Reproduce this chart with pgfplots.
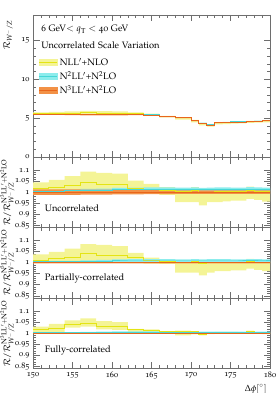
\documentclass[border=0pt]{standalone}
\usepackage[T1]{fontenc}
\usepackage[osf]{mathpazo}
\usepackage{pgfplots}
\pgfplotsset{compat=1.18}
\usepackage{pgfplotstable}
\usepgfplotslibrary{fillbetween}

\definecolor{ylwband}{RGB}{244,244,150}
\definecolor{ylwline}{RGB}{228,228,20}
\definecolor{cyaband}{RGB}{140,236,236}
\definecolor{cyaline}{RGB}{70,215,215}
\definecolor{orgband}{RGB}{242,145,70}
\definecolor{orgline}{RGB}{232,102,28}
\definecolor{axgray}{RGB}{110,110,110}

\pgfplotstableread{
x yh yc yl ch cc cl oh oc ol
150 5.75 5.58 5.45 5.56 5.53 5.49 5.57 5.50 5.43
152 5.80 5.62 5.46 5.55 5.52 5.48 5.56 5.49 5.42
154 5.87 5.63 5.46 5.54 5.50 5.47 5.54 5.47 5.40
156 5.96 5.68 5.45 5.53 5.49 5.46 5.52 5.45 5.38
158 5.92 5.62 5.44 5.53 5.49 5.45 5.51 5.44 5.37
160 5.89 5.61 5.42 5.54 5.49 5.45 5.50 5.43 5.36
162 5.74 5.55 5.42 5.56 5.52 5.47 5.50 5.45 5.40
164 5.58 5.44 5.34 5.50 5.44 5.40 5.42 5.38 5.34
166 5.29 5.20 5.11 5.28 5.23 5.19 5.21 5.17 5.13
168 5.13 5.06 4.81 5.15 5.10 5.06 5.08 5.04 5.00
170 4.77 4.69 4.45 4.76 4.72 4.68 4.70 4.66 4.63
171 4.36 4.32 4.07 4.43 4.38 4.35 4.36 4.33 4.30
172 4.15 4.12 3.93 4.21 4.17 4.14 4.15 4.12 4.09
173 4.47 4.41 4.20 4.50 4.45 4.42 4.44 4.40 4.37
174 4.51 4.45 4.25 4.53 4.48 4.45 4.47 4.43 4.40
175 4.54 4.48 4.30 4.57 4.52 4.49 4.51 4.47 4.44
176 4.57 4.51 4.33 4.60 4.55 4.52 4.54 4.50 4.47
177 4.65 4.57 4.39 4.63 4.58 4.55 4.57 4.53 4.50
178 4.65 4.60 4.42 4.68 4.63 4.60 4.62 4.58 4.55
179 4.69 4.65 4.45 4.74 4.70 4.66 4.68 4.64 4.61
180 4.69 4.65 4.45 4.74 4.70 4.66 4.68 4.64 4.61
}\tmain

\pgfplotstableread{
x yh yc yl ch cc cl oh oc ol
150 1.045 1.015 0.990 1.010 1.005 0.998 1.013 1.000 0.988
152 1.056 1.023 0.995 1.011 1.005 0.999 1.013 1.000 0.988
154 1.073 1.030 0.998 1.012 1.006 1.000 1.013 1.000 0.988
156 1.094 1.043 1.000 1.015 1.008 1.001 1.012 1.000 0.989
158 1.088 1.034 1.000 1.017 1.009 1.002 1.012 1.000 0.989
160 1.084 1.034 0.998 1.020 1.011 1.003 1.011 1.000 0.990
162 1.053 1.018 0.995 1.021 1.012 1.004 1.010 1.000 0.990
164 1.038 1.012 0.993 1.022 1.012 1.004 1.010 1.000 0.991
166 1.023 1.006 0.988 1.022 1.012 1.004 1.009 1.000 0.992
168 1.018 1.004 0.955 1.021 1.011 1.004 1.008 1.000 0.993
170 1.023 1.006 0.955 1.022 1.012 1.004 1.008 1.000 0.993
171 1.008 0.998 0.940 1.020 1.011 1.003 1.008 1.000 0.993
172 1.008 1.000 0.955 1.021 1.012 1.004 1.008 1.000 0.993
173 1.015 1.003 0.955 1.022 1.012 1.004 1.008 1.000 0.993
174 1.018 1.004 0.959 1.022 1.012 1.004 1.008 1.000 0.993
175 1.015 1.003 0.962 1.021 1.011 1.004 1.008 1.000 0.993
176 1.015 1.003 0.962 1.021 1.011 1.004 1.008 1.000 0.993
177 1.026 1.008 0.970 1.023 1.013 1.005 1.008 1.000 0.993
178 1.015 1.004 0.965 1.022 1.012 1.004 1.008 1.000 0.993
179 1.011 1.002 0.958 1.021 1.011 1.004 1.008 1.000 0.993
180 1.011 1.002 0.958 1.021 1.011 1.004 1.008 1.000 0.993
}\tunc

\pgfplotstableread{
x yh yc yl ch cc cl oh oc ol
150 1.038 1.011 0.998 1.008 1.004 1.000 1.003 1.000 0.997
152 1.049 1.018 1.000 1.008 1.004 1.000 1.003 1.000 0.997
154 1.064 1.026 1.000 1.009 1.004 1.000 1.003 1.000 0.997
156 1.084 1.043 1.002 1.011 1.005 1.000 1.003 1.000 0.997
158 1.081 1.034 1.002 1.013 1.006 1.001 1.003 1.000 0.997
160 1.076 1.034 1.000 1.015 1.008 1.001 1.003 1.000 0.997
162 1.045 1.023 0.998 1.016 1.008 1.001 1.003 1.000 0.997
164 1.023 1.010 0.996 1.016 1.008 1.001 1.003 1.000 0.997
166 1.015 1.005 0.995 1.016 1.008 1.001 1.003 1.000 0.997
168 1.008 1.002 0.955 1.015 1.008 1.001 1.003 1.000 0.997
170 1.015 1.005 0.955 1.016 1.008 1.001 1.003 1.000 0.997
171 1.002 0.998 0.943 1.015 1.008 1.001 1.003 1.000 0.997
172 1.005 1.000 0.955 1.016 1.008 1.001 1.003 1.000 0.997
173 1.010 1.002 0.962 1.016 1.008 1.001 1.003 1.000 0.997
174 1.012 1.003 0.962 1.016 1.008 1.001 1.003 1.000 0.997
175 1.010 1.002 0.965 1.015 1.008 1.001 1.003 1.000 0.997
176 1.010 1.002 0.965 1.015 1.008 1.001 1.003 1.000 0.997
177 1.018 1.006 0.973 1.017 1.009 1.001 1.003 1.000 0.997
178 1.012 1.003 0.968 1.016 1.008 1.001 1.003 1.000 0.997
179 1.008 1.001 0.962 1.015 1.008 1.001 1.003 1.000 0.997
180 1.008 1.001 0.962 1.015 1.008 1.001 1.003 1.000 0.997
}\tpar

\pgfplotstableread{
x yh yc yl ch cc cl oh oc ol
150 1.030 1.015 1.000 1.004 1.002 0.999 1.003 1.000 0.997
152 1.043 1.023 1.005 1.005 1.002 0.999 1.003 1.000 0.997
154 1.058 1.038 1.025 1.005 1.003 1.000 1.003 1.000 0.997
156 1.068 1.043 1.030 1.006 1.003 1.000 1.003 1.000 0.997
158 1.055 1.032 1.018 1.007 1.004 1.000 1.003 1.000 0.997
160 1.050 1.030 1.015 1.008 1.004 1.001 1.003 1.000 0.997
162 1.020 1.016 1.005 1.009 1.005 1.001 1.003 1.000 0.997
164 1.018 1.013 1.002 1.009 1.005 1.001 1.003 1.000 0.997
166 1.010 1.006 0.998 1.008 1.004 1.001 1.003 1.000 0.997
168 1.012 1.008 0.990 1.008 1.004 1.001 1.003 1.000 0.997
170 1.010 1.006 0.995 1.007 1.004 1.001 1.003 1.000 0.997
171 0.998 0.994 0.990 1.007 1.004 1.001 1.003 1.000 0.997
172 1.005 1.002 0.996 1.007 1.004 1.001 1.003 1.000 0.997
173 1.006 1.003 0.997 1.007 1.004 1.001 1.003 1.000 0.997
174 1.006 1.003 0.997 1.007 1.004 1.001 1.003 1.000 0.997
175 1.006 1.004 0.998 1.007 1.004 1.001 1.003 1.000 0.997
176 1.005 1.003 0.998 1.007 1.004 1.001 1.003 1.000 0.997
177 1.012 1.009 1.002 1.007 1.004 1.001 1.003 1.000 0.997
178 1.005 1.002 0.997 1.007 1.004 1.001 1.003 1.000 0.997
179 1.003 1.000 0.996 1.007 1.004 1.001 1.003 1.000 0.997
180 1.003 1.000 0.996 1.007 1.004 1.001 1.003 1.000 0.997
}\tful

% band macro: #1 table, #2 hi, #3 lo, #4 band colour, #5 id
\newcommand{\bandplot}[5]{%
  \addplot[const plot, draw=none, name path=#5u, forget plot] table[x=x,y=#2]{#1};
  \addplot[const plot, draw=none, name path=#5l, forget plot] table[x=x,y=#3]{#1};
  \addplot[fill=#4, draw=none, forget plot] fill between[of=#5u and #5l];
}
\newcommand{\centreline}[3]{%
  \addplot[const plot, draw=#3, line width=1pt, forget plot] table[x=x,y=#2]{#1};
}
\newcommand{\allbands}[1]{%
  \bandplot{#1}{yh}{yl}{ylwband}{Y}
  \bandplot{#1}{ch}{cl}{cyaband}{C}
  \bandplot{#1}{oh}{ol}{orgband}{O}
  \centreline{#1}{yc}{ylwline}
  \centreline{#1}{cc}{cyaline}
  \centreline{#1}{oc}{orgline}
}
\newcommand{\txtfont}{\fontsize{9.3}{11}\selectfont}

\pgfplotsset{
  panel/.style={
    width=237pt, scale only axis,
    xmin=150, xmax=180,
    xtick={150,155,160,165,170,175,180},
    minor x tick num=4,
    tick align=inside,
    major tick length=6.5pt, minor tick length=3.2pt,
    axis line style={draw=axgray, line width=0.7pt},
    tick style={draw=axgray, line width=0.6pt},
    tick label style={font=\fontsize{8.2}{9}\selectfont},
    xticklabels={},
    label style={font=\fontsize{9}{10}\selectfont},
  },
  ratio/.style={
    panel, height=70.5pt,
    ymin=0.84, ymax=1.16,
    ytick={0.85,0.9,0.95,1,1.05,1.1},
    yticklabels={0.85,0.9,0.95,1,1.05,1.1},
    minor y tick num=4,
    ylabel={$\mathcal{R}/\mathcal{R}^{\mathrm{N^3LL'+N^2LO}}_{W^-/Z}$},
    ylabel style={at={(axis description cs:-0.108,0.5)}, anchor=center},
  },
}

\begin{document}
\begin{tikzpicture}

% main panel
\begin{axis}[panel, at={(0pt,-157pt)}, anchor=south west, height=142pt,
  ymin=0, ymax=18.3, ytick={0,5,10,15}, yticklabels={0,5,10,15},
  minor y tick num=4,
  ylabel={$\mathcal{R}_{W^-/Z}$},
  ylabel style={at={(axis description cs:-0.105,0.86)}, anchor=center},
  legend style={at={(axis description cs:0.02,0.72)}, anchor=north west,
    draw=none, fill=none, font=\txtfont, row sep=0.3pt,
    inner sep=1pt},
  legend cell align=left]
\allbands{\tmain}
\addlegendimage{legend image code/.code={\fill[ylwband] (0pt,-2.8pt) rectangle (18pt,2.8pt); \draw[ylwline, line width=1pt] (0pt,0pt) -- (18pt,0pt);}}
\addlegendentry{NLL$'$+NLO}
\addlegendimage{legend image code/.code={\fill[cyaband] (0pt,-2.8pt) rectangle (18pt,2.8pt); \draw[cyaline, line width=1pt] (0pt,0pt) -- (18pt,0pt);}}
\addlegendentry{N$^2$LL$'$+N$^2$LO}
\addlegendimage{legend image code/.code={\fill[orgband] (0pt,-2.8pt) rectangle (18pt,2.8pt); \draw[orgline, line width=1pt] (0pt,0pt) -- (18pt,0pt);}}
\addlegendentry{N$^3$LL$'$+N$^2$LO}
\node[anchor=west, font=\txtfont] at (axis description cs:0.02,0.894) {6 GeV$<q_\mathrm{T}<$ 40 GeV};
\node[anchor=west, font=\txtfont] at (axis description cs:0.02,0.789) {Uncorrelated Scale Variation};
\end{axis}

% uncorrelated
\begin{axis}[ratio, at={(0pt,-227.5pt)}, anchor=south west]
\allbands{\tunc}
\node[anchor=west, font=\txtfont] at (axis description cs:0.035,0.28) {Uncorrelated};
\end{axis}

% partially correlated
\begin{axis}[ratio, at={(0pt,-298pt)}, anchor=south west]
\allbands{\tpar}
\node[anchor=west, font=\txtfont] at (axis description cs:0.035,0.28) {Partially-correlated};
\end{axis}

% fully correlated
\begin{axis}[ratio, at={(0pt,-368.5pt)}, anchor=south west,
  xticklabels={150,155,160,165,170,175,180},
  xlabel={$\Delta\phi[^\circ]$},
  xlabel style={at={(axis description cs:1,-0.17)}, anchor=north east}]
\allbands{\tful}
\node[anchor=west, font=\txtfont] at (axis description cs:0.035,0.26) {Fully-correlated};
\end{axis}
\pgfresetboundingbox
\path[use as bounding box] (-33pt,-393pt) rectangle (246pt,0pt);
\end{tikzpicture}
\end{document}
